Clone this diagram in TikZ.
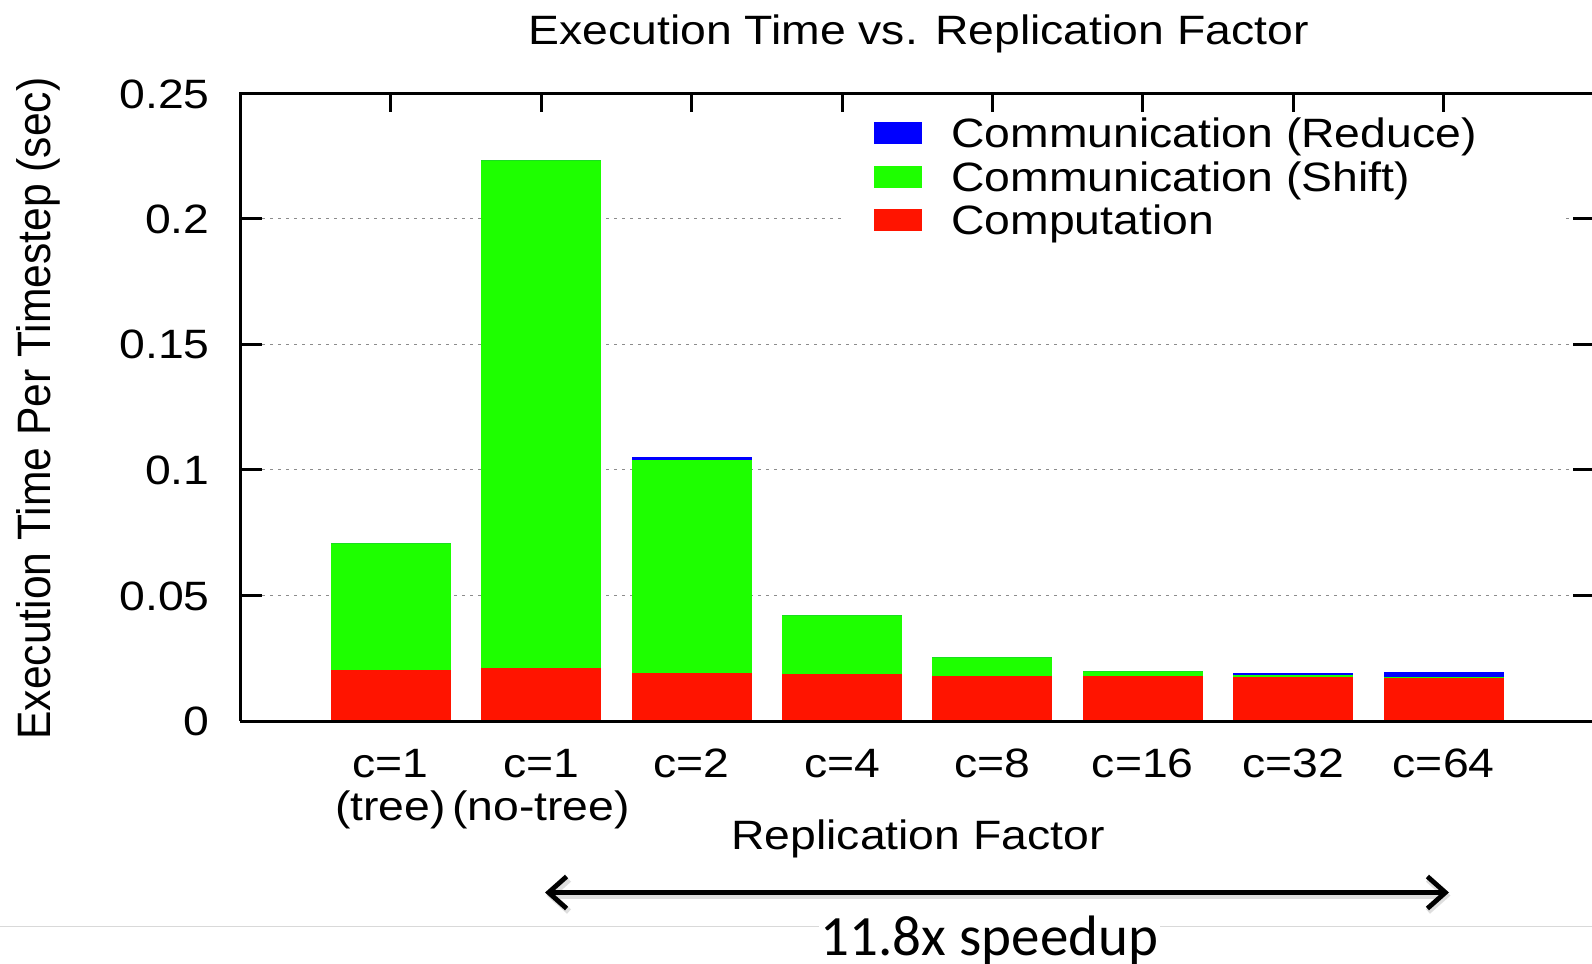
\documentclass[tikz,border=0pt]{standalone}
\usepackage{fontspec}
\usetikzlibrary{arrows.meta}
\newfontfamily\gpfont{Liberation Sans}[FakeStretch=1.13]
\newfontfamily\gpplain{Liberation Sans}
\newfontfamily\carlfont{Carlito}
\definecolor{barred}{RGB}{255,20,0}
\definecolor{bargreen}{RGB}{30,255,0}
\definecolor{barblue}{RGB}{0,0,255}
\definecolor{gridgray}{RGB}{140,140,140}
\begin{document}
\begin{tikzpicture}[x=0.5pt,y=-0.5pt,
  gptext/.style={font=\gpfont\fontsize{20.5}{24}\selectfont, inner sep=0pt, text height=14.7pt, text depth=0pt},
  axisline/.style={line width=1.5pt, black},
  tickline/.style={line width=1.5pt, black},
  gridline/.style={gridgray, line width=0.6pt, dash pattern=on 1.5pt off 2.5pt},
  swatch/.style={minimum width=24pt, minimum height=11pt, inner sep=0pt},
  speedarrow/.style={line width=2.4pt, black, {Straight Barb[length=9pt,width=16pt]}-{Straight Barb[length=9pt,width=16pt]}},
  arrowshadow/.style={line width=3pt, black!25, opacity=0.5, {Straight Barb[length=9pt,width=16pt]}-{Straight Barb[length=9pt,width=16pt]}}
]
\clip (0,0) rectangle (1592,964);
\fill[white] (0,0) rectangle (1592,964);

% grid lines
\foreach \gy in {595.4,469.8,344.2,218.6}
  \draw[gridline] (262,\gy) -- (1573,\gy);
% legend background
\fill[white] (846,113) rectangle (1566,242);

% bars: x center / red top / green top / blue top
\foreach \bx/\rt/\gt/\bt in {390.5/670/543/543, 541/668/159.5/159.5, 691.5/673/460/456.5, 842/674/615/615, 992.3/675.5/657/657, 1142.8/676/671/671, 1293.2/677/675/672.5, 1443.7/677/676.5/672}{
  \fill[barred] (\bx-60,721) rectangle (\bx+60,\rt);
  \fill[bargreen] (\bx-60,\rt) rectangle (\bx+60,\gt);
  \fill[barblue] (\bx-60,\gt) rectangle (\bx+60,\bt);
}

% frame
\draw[axisline] (240,721) -- (240,93) -- (1600,93);
\draw[axisline] (240,721) -- (1600,721);
% y ticks
\foreach \gy in {595.4,469.8,344.2,218.6}{
  \draw[tickline] (240,\gy) -- (262,\gy);
  \draw[tickline] (1573,\gy) -- (1600,\gy);
}
% top ticks
\foreach \bx in {390.5,541,691.5,842,992.3,1142.8,1293.2,1443.7}
  \draw[tickline] (\bx,93) -- (\bx,112);

% tick labels
\node[gptext, anchor=east] (t025) at (210,94) {0.25};
\node[gptext, anchor=east] (t020) at (210,218.6) {0.2};
\node[gptext, anchor=east] (t015) at (210,344.2) {0.15};
\node[gptext, anchor=east] (t010) at (210,469.8) {0.1};
\node[gptext, anchor=east] (t005) at (210,595.4) {0.05};
\node[gptext, anchor=east] (t000) at (210,721) {0};

% x labels
\node[gptext] (c1a) at (390.5,763) {c=1};
\node[gptext] (c1b) at (390.5,806) {(tree)};
\node[gptext] (c2a) at (541,763) {c=1};
\node[gptext] (c2b) at (541,806) {(no-tree)};
\node[gptext] (c3) at (691.5,763) {c=2};
\node[gptext] (c4) at (842,763) {c=4};
\node[gptext] (c5) at (992.3,763) {c=8};
\node[gptext] (c6) at (1142.8,763) {c=16};
\node[gptext] (c7) at (1293.2,763) {c=32};
\node[gptext] (c8) at (1443.7,763) {c=64};

\node[gptext] (xlab) at (918,835) {Replication Factor};
\node[gptext] (title) at (918.5,30) {Execution Time vs. Replication Factor};
\node[inner sep=0pt] (ylab) at (33.5,408.5) {\scalebox{1.1}[1]{\rotatebox{90}{\gpplain\fontsize{21.3}{24}\selectfont\smash{Execution Time Per Timestep (sec)}\rule{0pt}{15.25pt}}}};

% legend
\node[swatch, fill=barblue] (swb) at (898,133) {};
\node[swatch, fill=bargreen] (swg) at (898,176.5) {};
\node[swatch, fill=barred] (swr) at (898,220) {};
\node[gptext, anchor=west] (lgb) at (951,133) {Communication (Reduce)};
\node[gptext, anchor=west] (lgg) at (951,176.5) {Communication (Shift)};
\node[gptext, anchor=west] (lgr) at (951,220) {Computation};

% separator line
\coordinate (sepL) at (0,926);
\coordinate (sepR) at (1592,926);
\draw[black!15, line width=0.5pt] (sepL) -- (sepR);

% speedup arrow
\coordinate (aL) at (545,892.5);
\coordinate (aR) at (1449,892.5);
\draw[arrowshadow] ([shift={(1.5,3)}]aL) -- ([shift={(1.5,3)}]aR);
\draw[speedarrow] (aL) -- (aR);
\node[font=\carlfont\fontsize{28.5}{32}\selectfont, anchor=base, fill=white, inner xsep=1pt, inner ysep=0pt] (speed) at (989.5,955) {11.8x speedup};
\end{tikzpicture}
\end{document}
